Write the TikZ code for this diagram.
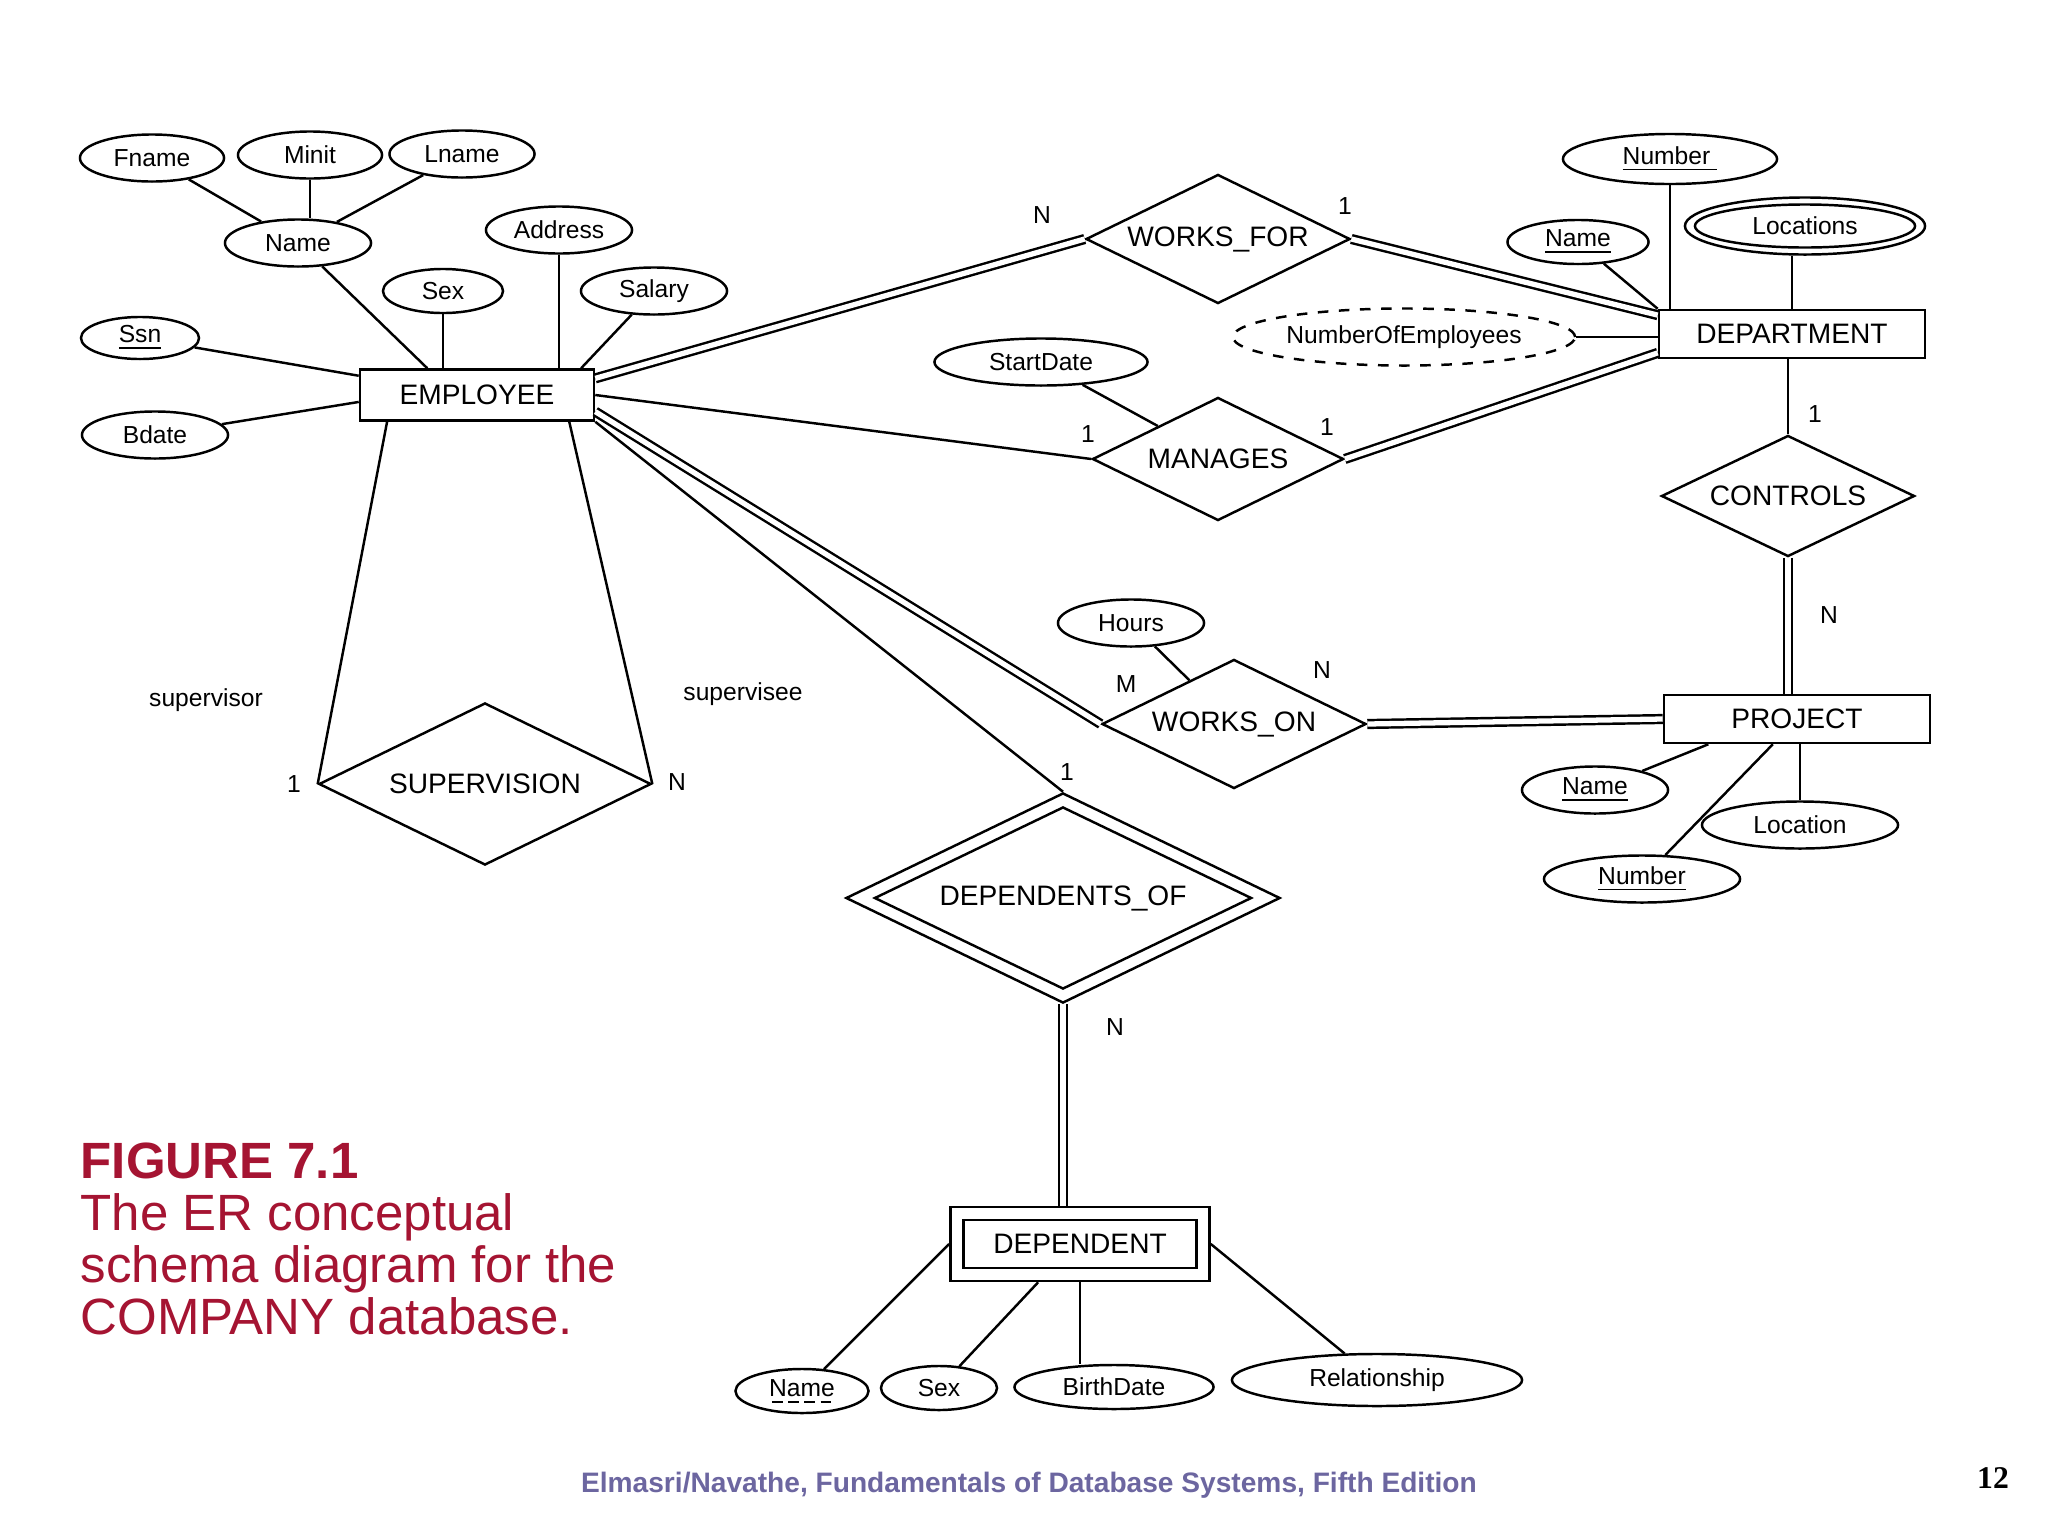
\documentclass[tikz,border=0pt]{standalone}
\usepackage{fontspec}
\setmainfont{Liberation Sans}
\newfontfamily\pagenumfont{Liberation Serif}
\usetikzlibrary{shapes.geometric,calc}
\definecolor{figred}{RGB}{165,20,50}
\definecolor{footblue}{RGB}{108,102,160}
\newsavebox\keybox
\newcommand\partkey[1]{\sbox\keybox{#1}\rlap{\hbox to\wd\keybox{\leaders\hbox to 4.6pt{\hss\rule[-1.8pt]{3pt}{0.45pt}\hss}\hfill}}\usebox\keybox}

\begin{document}
\begin{tikzpicture}[x=0.01cm,y=-0.01cm,
  every node/.style={inner sep=0pt},
  ent/.style={draw,rectangle,line width=0.7pt,font=\fontsize{8}{9}\selectfont},
  rel/.style={draw,diamond,aspect=2,line width=0.7pt,font=\fontsize{8}{9}\selectfont},
  attr/.style={draw,ellipse,line width=0.7pt,font=\fontsize{7}{8}\selectfont},
  card/.style={font=\fontsize{7}{8}\selectfont},
  link/.style={line width=0.7pt},
  total/.style={line width=0.7pt,double,double distance=1.5pt}]
\useasboundingbox (0,0) rectangle (2048,1536);

% entities
\node[ent,minimum width=2.34cm,minimum height=0.51cm] (emp) at (477,395) {EMPLOYEE};
\node[ent,minimum width=2.66cm,minimum height=0.48cm] (dept) at (1792,334) {DEPARTMENT};
\node[ent,minimum width=2.66cm,minimum height=0.48cm] (proj) at (1797,719) {PROJECT};
\node[ent,minimum width=2.59cm,minimum height=0.74cm] (dep) at (1080,1244) {};
\node[ent,minimum width=2.33cm,minimum height=0.48cm] (depin) at (1080,1244) {DEPENDENT};

% relationships
\node[rel,minimum width=2.64cm,minimum height=1.29cm] (wfor) at (1218,239) {WORKS\_FOR};
\node[rel,minimum width=2.51cm,minimum height=1.23cm] (man) at (1218,459) {MANAGES};
\node[rel,minimum width=2.53cm,minimum height=1.21cm] (ctrl) at (1788,496) {CONTROLS};
\node[rel,minimum width=2.64cm,minimum height=1.29cm] (won) at (1234,724) {WORKS\_ON};
\node[rel,minimum width=3.32cm,minimum height=1.62cm] (sup) at (485,784) {SUPERVISION};
\node[rel,minimum width=4.34cm,minimum height=2.10cm] (dof) at (1063,898) {};
\node[rel,minimum width=3.77cm,minimum height=1.82cm] (dofin) at (1063,898) {DEPENDENTS\_OF};

% attributes
\node[attr,minimum width=1.44cm,minimum height=0.47cm] (fname) at (152,158) {Fname};
\node[attr,minimum width=1.44cm,minimum height=0.47cm] (minit) at (310,155) {Minit};
\node[attr,minimum width=1.45cm,minimum height=0.47cm] (lname) at (462,154) {Lname};
\node[attr,minimum width=1.46cm,minimum height=0.47cm] (ename) at (298,243) {Name};
\node[attr,minimum width=1.46cm,minimum height=0.47cm] (eaddr) at (559,230) {Address};
\node[attr,minimum width=1.20cm,minimum height=0.44cm] (esex) at (443,291) {Sex};
\node[attr,minimum width=1.46cm,minimum height=0.47cm] (esal) at (654,291) {Salary};
\node[attr,minimum width=1.18cm,minimum height=0.42cm] (essn) at (140,338) {\underline{Ssn}};
\node[attr,minimum width=1.46cm,minimum height=0.47cm] (ebdate) at (155,435) {Bdate};
\node[attr,minimum width=2.13cm,minimum height=0.47cm] (mstart) at (1041,362) {StartDate};
\node[attr,dashed,minimum width=3.42cm,minimum height=0.57cm] (dnoe) at (1404,337) {NumberOfEmployees};
\node[attr,minimum width=2.14cm,minimum height=0.50cm] (dnum) at (1670,159) {\underline{Number\hspace{2pt}}};
\node[attr,minimum width=1.41cm,minimum height=0.44cm] (dname) at (1578,242) {\underline{Name}};
\node[attr,minimum width=2.40cm,minimum height=0.57cm] (dloc) at (1805,226) {};
\node[attr,minimum width=2.20cm,minimum height=0.43cm] (dlocin) at (1805,226) {Locations};
\node[attr,minimum width=1.46cm,minimum height=0.47cm] (whours) at (1131,623) {Hours};
\node[attr,minimum width=1.46cm,minimum height=0.47cm] (pname) at (1595,790) {\underline{Name}};
\node[attr,minimum width=1.96cm,minimum height=0.47cm] (ploc) at (1800,825) {Location};
\node[attr,minimum width=1.96cm,minimum height=0.47cm] (pnum) at (1642,879) {\underline{Number}};
\node[attr,minimum width=1.33cm,minimum height=0.44cm] (dpname) at (802,1391) {\partkey{Name}};
\node[attr,minimum width=1.16cm,minimum height=0.44cm] (dpsex) at (939,1388) {Sex};
\node[attr,minimum width=1.99cm,minimum height=0.44cm] (dpbirth) at (1114,1387) {BirthDate};
\node[attr,minimum width=2.90cm,minimum height=0.52cm] (dprel) at (1377,1380) {Relationship};

% attribute links
\path[draw,link] (fname) -- (ename);
\path[draw,link] (minit.south) -- (minit.south |- ename.north);
\path[draw,link] (lname) -- (ename);
\path[draw,link] (ename) -- ($(emp.north west)!0.29!(emp.north east)$);
\path[draw,link] (esex.south) -- (esex.south |- emp.north);
\path[draw,link] (eaddr.south) -- (eaddr.south |- emp.north);
\path[draw,link] (esal) -- ($(emp.north west)!0.94!(emp.north east)$);
\path[draw,link] (essn) -- ($(emp.north west)!0.14!(emp.south west)$);
\path[draw,link] (ebdate) -- ($(emp.north west)!0.63!(emp.south west)$);
\path[draw,link] (mstart) -- (man);
\path[draw,link] (dnoe.east) -- (dnoe.east -| dept.west);
\path[draw,link] (dname) -- (dept.north west);
\path[draw,link] (dnum.south) -- (dnum.south |- dept.north);
\path[draw,link] (dept.north) -- (dept.north |- dloc.south);
\path[draw,link] (whours) -- (won);
\path[draw,link] ($(proj.south west)!0.17!(proj.south east)$) -- (pname);
\path[draw,link] ($(proj.south west)!0.41!(proj.south east)$) -- (pnum);
\path[draw,link] (ploc.north) -- (ploc.north |- proj.south);
\path[draw,link] (dep.west) -- (dpname);
\path[draw,link] ($(dep.south west)!0.34!(dep.south east)$) -- (dpsex);
\path[draw,link] (dep.south) -- (dep.south |- dpbirth.north);
\path[draw,link] (dep.east) -- (dprel);

% relationship links
\path[draw,total] (emp.8) -- (wfor.west);
\path[draw,total] (wfor.east) -- (dept.172);
\path[draw,link] (emp.east) -- (man.west);
\path[draw,total] (man.east) -- (dept.188);
\path[draw,link] (ctrl.north) -- (ctrl.north |- dept.south);
\path[draw,total] (ctrl.south) -- (ctrl.south |- proj.north);
\path[draw,total] (emp.-8) -- (won.west);
\path[draw,total] (won.east) -- (proj.west);
\path[draw,link] (emp.south east) -- (dof.north);
\path[draw,total] (dof.south) -- (dof.south |- dep.north);
\path[draw,link] ($(emp.south west)!0.12!(emp.south east)$) -- (sup.west);
\path[draw,link] ($(emp.south west)!0.89!(emp.south east)$) -- (sup.east);

% cardinalities and roles
\node[card] (cwfe) at (1042,215) {N};
\node[card] (cwfd) at (1345,206) {1};
\node[card] (cmne) at (1088,434) {1};
\node[card] (cmnd) at (1327,427) {1};
\node[card] (cctd) at (1815,414) {1};
\node[card] (cctp) at (1829,615) {N};
\node[card] (cwoe) at (1126,684) {M};
\node[card] (cwop) at (1322,670) {N};
\node[card] (cdfe) at (1067,772) {1};
\node[card] (cdfd) at (1115,1027) {N};
\node[card] (csp1) at (294,784) {1};
\node[card] (cspn) at (677,782) {N};
\node[card] (rsupr) at (206,700) {supervisor};
\node[card] (rsupe) at (743,694) {supervisee};

% caption and footer
\node[anchor=north west,align=left,text=figred,font=\fontsize{14.5}{14.8}\selectfont] (cap) at (80,1142)
  {\textbf{FIGURE 7.1}\\The ER conceptual\\schema diagram for the\\COMPANY database.};
\node[anchor=base,text=footblue,font=\bfseries\fontsize{8}{9}\selectfont] (foot) at (1029,1492)
  {Elmasri/Navathe, Fundamentals of Database Systems, Fifth Edition};
\node[anchor=base,font=\pagenumfont\bfseries\fontsize{9}{10}\selectfont] (pageno) at (1993,1488) {12};
\end{tikzpicture}
\end{document}
